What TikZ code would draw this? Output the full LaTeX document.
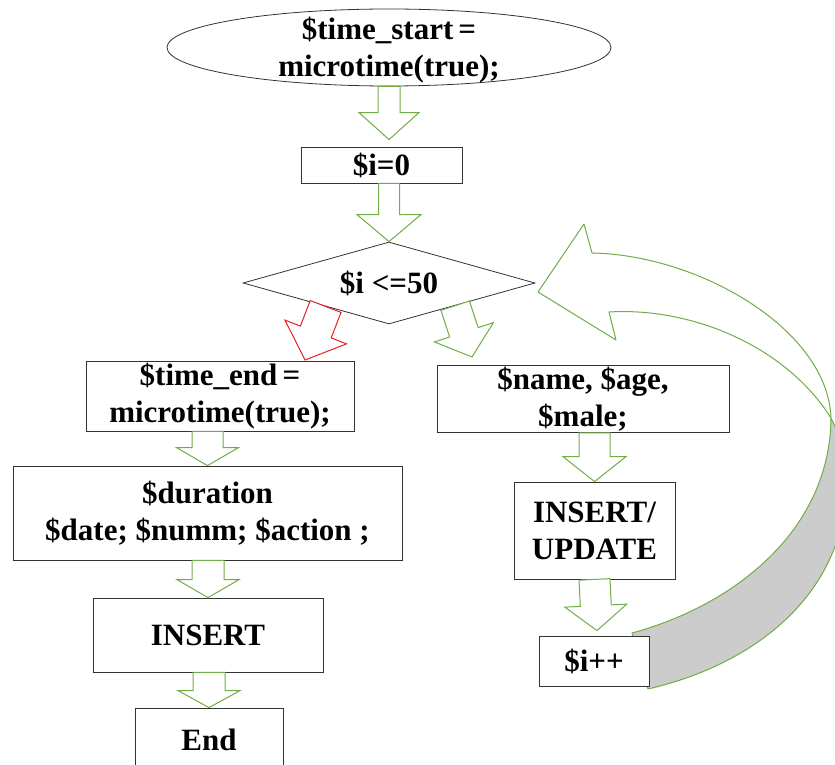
\documentclass[tikz,border=0pt]{standalone}
\usepackage{fontspec}
\setmainfont{Liberation Serif}
\usetikzlibrary{shapes.geometric,calc}
\definecolor{leafgreen}{RGB}{112,173,71}
\definecolor{stopred}{RGB}{232,32,36}
\newcommand{\fatarrow}[6][leafgreen]{%
  \coordinate (fa-s) at (#2);
  \coordinate (fa-e) at (#3);
  \coordinate (fa-b) at ($(fa-e)!#6!(fa-s)$);
  \draw[draw=#1,fill=white,line width=1pt]
    ($(fa-s)!#4!90:(fa-e)$) -- ($(fa-b)!#4!-90:(fa-s)$) -- ($(fa-b)!#5!-90:(fa-s)$)
    -- (fa-e) -- ($(fa-b)!#5!90:(fa-s)$) -- ($(fa-b)!#4!90:(fa-s)$)
    -- ($(fa-s)!#4!-90:(fa-e)$) -- cycle;}
\begin{document}
\begin{tikzpicture}[x=1pt,y=-1pt,
  box/.style={draw=black!80,line width=0.8pt,fill=white,inner sep=0pt,align=center,
    font=\bfseries\fontsize{31}{37}\selectfont},
  loopline/.style={draw=leafgreen,line width=1pt,line join=round}]
\useasboundingbox (0,0) rectangle (835,765);
\clip (0,0) rectangle (835,765);

\draw[loopline,fill=black!20] (831,418) .. controls (830,530) and (735,605) .. (632,633)
  -- (648,689) .. controls (765,662) and (848,585) .. (846,480)
  .. controls (845,450) and (835,425) .. (831,418) -- cycle;
\draw[loopline,fill=white] (609,312) .. controls (690,307) and (785,345) .. (831,418)
  .. controls (828,330) and (700,255) .. (592,253) -- (584,224) -- (538,292) -- (616,340) -- cycle;

\node[box,ellipse,minimum width=444pt,minimum height=77pt] (start) at (389,47.5) {};
\node[box,draw=none,fill=none] (starttext) at (389,50) {\$time\_start\,=\\microtime(true);};
\node[box,minimum width=161pt,minimum height=36pt] (izero) at (381.5,165) {\$i=0};
\node[box,diamond,aspect=3.5,minimum width=292pt,minimum height=82pt] (cond) at (389,283) {\$i <=50};
\node[box,minimum width=268pt,minimum height=70pt] (timeend) at (220,396) {\$time\_end\,=\\microtime(true);};
\node[box,minimum width=389pt,minimum height=94pt] (duration) at (207.5,513) {\$duration\\\$date; \$numm; \$action ;};
\node[box,minimum width=230pt,minimum height=74pt] (insert) at (208,635) {INSERT};
\node[box,minimum width=148pt,minimum height=64pt] (endbox) at (209,740) {End};
\node[box,minimum width=292pt,minimum height=67pt] (fields) at (583,399) {\$name, \$age,\\\$male;};
\node[box,minimum width=161pt,minimum height=97pt] (upsert) at (594.5,530.5) {INSERT/\\UPDATE};
\node[box,minimum width=110pt,minimum height=50pt] (iplus) at (594,661) {\$i++};

\coordinate (noend) at (305,360);
\coordinate (yesend) at (472,357);

\fatarrow{start.south}{$(start.south |- izero.north)+(0,-7)$}{11pt}{30pt}{27pt}
\fatarrow{cond.north |- izero.south}{cond.north}{10.5pt}{32pt}{27pt}
\fatarrow[stopred]{$(cond.west)!0.567!(cond.south)$}{noend}{16.5pt}{33pt}{30pt}
\fatarrow{$(cond.south)!0.452!(cond.east)$}{yesend}{15pt}{31pt}{26pt}
\fatarrow{duration.north |- timeend.south}{duration.north}{15.5pt}{31pt}{18pt}
\fatarrow{insert.north |- duration.south}{insert.north}{16pt}{31pt}{18pt}
\fatarrow{endbox.north |- insert.south}{endbox.north}{16pt}{31pt}{17pt}
\fatarrow{upsert.north |- fields.south}{upsert.north}{15.5pt}{31.5pt}{25pt}
\fatarrow{upsert.south}{$(iplus.north)+(3,-5)$}{15.5pt}{31pt}{25pt}
\end{tikzpicture}
\end{document}
